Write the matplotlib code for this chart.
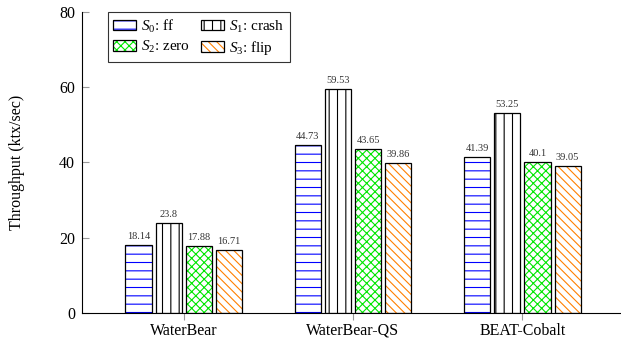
import matplotlib
matplotlib.use("Agg")
import matplotlib.pyplot as plt
import numpy as np
from matplotlib.patches import Patch


# ── Data ──────────────────────────────────────────────────────────────────────
SYSTEMS   = ["WaterBear", "WaterBear-QS", "BEAT-Cobalt"]
SCENARIOS = [r"$S_0$: ff", r"$S_1$: crash", r"$S_2$: zero", r"$S_3$: flip"]
S0_FF     = [18.14, 44.73, 41.39]
S1_CRASH  = [23.8, 59.53, 53.25]
S2_ZERO   = [17.88, 43.65, 40.1]
S3_FLIP   = [16.71, 39.86, 39.05]
Y_TICKS   = [0, 20, 40, 60, 80]

# ── Style ─────────────────────────────────────────────────────────────────────
HATCH_COLORS = ["#0000ff", "black", "#00e600", "#ff8000"]
HATCHES      = ["--", "||", "xxxx", "\\\\\\\\"]
BAR_WIDTH    = 0.154
BAR_PITCH    = 0.1775
FONT_NAME    = "Liberation Serif"
FONT_PT      = 11.5

plt.rcParams["font.family"] = FONT_NAME
plt.rcParams["mathtext.fontset"] = "custom"
plt.rcParams["mathtext.rm"] = FONT_NAME
plt.rcParams["mathtext.it"] = FONT_NAME + ":italic"
plt.rcParams["hatch.linewidth"] = 0.8


def draw_bars(ax, x, values, color, hatch):
    # hatch pass in the series colour, then a plain black outline on top
    ax.bar(x, values, BAR_WIDTH, facecolor="white", edgecolor=color,
           hatch=hatch, linewidth=0)
    return ax.bar(x, values, BAR_WIDTH, facecolor="none",
                  edgecolor="black", linewidth=0.9)


fig = plt.figure(figsize=(6.21, 3.45), dpi=100)
ax = fig.add_axes([0.132, 0.093, 0.873, 0.872])

x = np.arange(len(SYSTEMS))
series = [S0_FF, S1_CRASH, S2_ZERO, S3_FLIP]
for i, vals in enumerate(series):
    offs = (i - 1.5) * BAR_PITCH
    bars = draw_bars(ax, x + offs, vals, HATCH_COLORS[i], HATCHES[i])
    ax.bar_label(bars, labels=[f"{v:g}" for v in vals], padding=3,
                 fontsize=7.5, color="#333333")

ax.set_xlim(-0.6, 2.6)
ax.set_ylim(0, 80)
ax.set_xticks(x)
ax.set_xticklabels(SYSTEMS, fontsize=FONT_PT)
ax.set_yticks(Y_TICKS)
ax.tick_params(axis="y", direction="in", length=5, color="#999999",
               labelsize=FONT_PT, pad=5)
ax.tick_params(axis="x", direction="out", length=5, color="#999999",
               labelsize=FONT_PT, pad=2)
ax.set_ylabel("Throughput (ktx/sec)", fontsize=FONT_PT)
ax.yaxis.set_label_coords(-0.105, 0.5)

ax.spines["top"].set_visible(False)
ax.spines["right"].set_visible(False)

# legend fills row by row: S0, S1 on top, S2, S3 below
order = [0, 2, 1, 3]
handles = [(Patch(facecolor="white", edgecolor=HATCH_COLORS[i], hatch=HATCHES[i],
                  linewidth=0),
            Patch(facecolor="none", edgecolor="black", linewidth=0.9))
           for i in order]
leg = ax.legend(handles, [SCENARIOS[i] for i in order],
                loc="upper left", bbox_to_anchor=(0.048, 1.0), borderaxespad=0,
                ncol=2, fontsize=11, frameon=True, fancybox=False,
                edgecolor="black", handlelength=1.5, handleheight=0.7,
                handletextpad=0.3, columnspacing=0.75, labelspacing=0.3,
                borderpad=0.35)
leg.get_frame().set_linewidth(0.8)

fig.savefig("out.png", dpi=100)
